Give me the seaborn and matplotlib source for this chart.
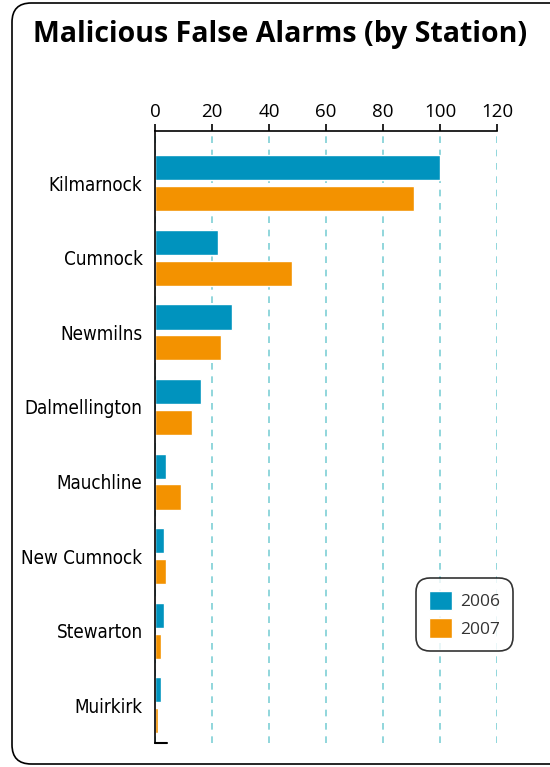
import pandas as pd
import seaborn as sns
import matplotlib.pyplot as plt
from matplotlib.patches import FancyBboxPatch

stations = ["Kilmarnock", "Cumnock", "Newmilns", "Dalmellington",
            "Mauchline", "New Cumnock", "Stewarton", "Muirkirk"]
alarms_2006 = [100, 22, 27, 16, 4, 3, 3, 2]
alarms_2007 = [91, 48, 23, 13, 9, 4, 2, 1]
years = ["2006", "2007"]
x_ticks = [0, 20, 40, 60, 80, 100, 120]

df = pd.DataFrame({
    "station": stations * 2,
    "year": [years[0]] * len(stations) + [years[1]] * len(stations),
    "alarms": alarms_2006 + alarms_2007,
})

sns.set_style("white")
plt.rcParams['font.family'] = ['Open Sans', 'DejaVu Sans']

fig = plt.figure(figsize=(5.5, 7.67), dpi=100)
ax = fig.add_axes([0.282, 0.031, 0.6218, 0.798])

palette = {"2006": "#0093BE", "2007": "#F39200"}
sns.barplot(ax=ax, data=df, x="alarms", y="station", hue="year",
            palette=palette, width=0.83, gap=0.19, saturation=1,
            errorbar=None, orient="h")

ax.set_xlim(0, 120)
ax.set_ylim(7.51, -0.70)
ax.set_xticks(x_ticks)
ax.xaxis.tick_top()
ax.tick_params(axis="x", direction="out", length=5, width=1.2, pad=2,
               labelsize=13.5, colors="black")
ax.tick_params(axis="y", length=0, pad=9, colors="black")
for lab in ax.get_yticklabels():
    lab.set_fontfamily(['DejaVu Sans'])
    lab.set_fontstretch("condensed")
    lab.set_fontsize(13.5)
ax.set_xlabel("")
ax.set_ylabel("")

ax.grid(axis="x", color="#7ECFD6", linestyle=(0, (4, 4)), linewidth=1.2)
ax.set_axisbelow(True)
for side in ["right", "bottom"]:
    ax.spines[side].set_visible(False)
for side in ["top", "left"]:
    ax.spines[side].set_color("black")
    ax.spines[side].set_linewidth(1.2)
ax.axhline(7.51, xmin=0, xmax=0.035, color="black", linewidth=1.5, clip_on=False)

leg = ax.legend(title=None, loc="center", bbox_to_anchor=(0.8445, 0.199),
                bbox_transform=fig.transFigure, fontsize=12.5, frameon=True,
                fancybox=True, handlelength=1.35, handleheight=1.35,
                borderpad=0.75, labelspacing=0.45, handletextpad=0.45)
leg.get_frame().set_edgecolor("black")
leg.get_frame().set_linewidth(1.2)
leg.get_frame().set_boxstyle("round", pad=0.0, rounding_size=0.8)
for t in leg.get_texts():
    t.set_color("#333333")

fig.text(0.060, 0.955, "Malicious False Alarms (by Station)", fontsize=20.5,
         fontweight="bold", ha="left", va="center", color="black")

frame = FancyBboxPatch((12 / 550, 3 / 767), 560 / 550, 761 / 767,
                       boxstyle="round,pad=0,rounding_size=0.035",
                       transform=fig.transFigure, fill=False,
                       edgecolor="black", linewidth=1.2, mutation_aspect=550 / 767)
fig.patches.append(frame)

fig.savefig("out.png", dpi=100)
